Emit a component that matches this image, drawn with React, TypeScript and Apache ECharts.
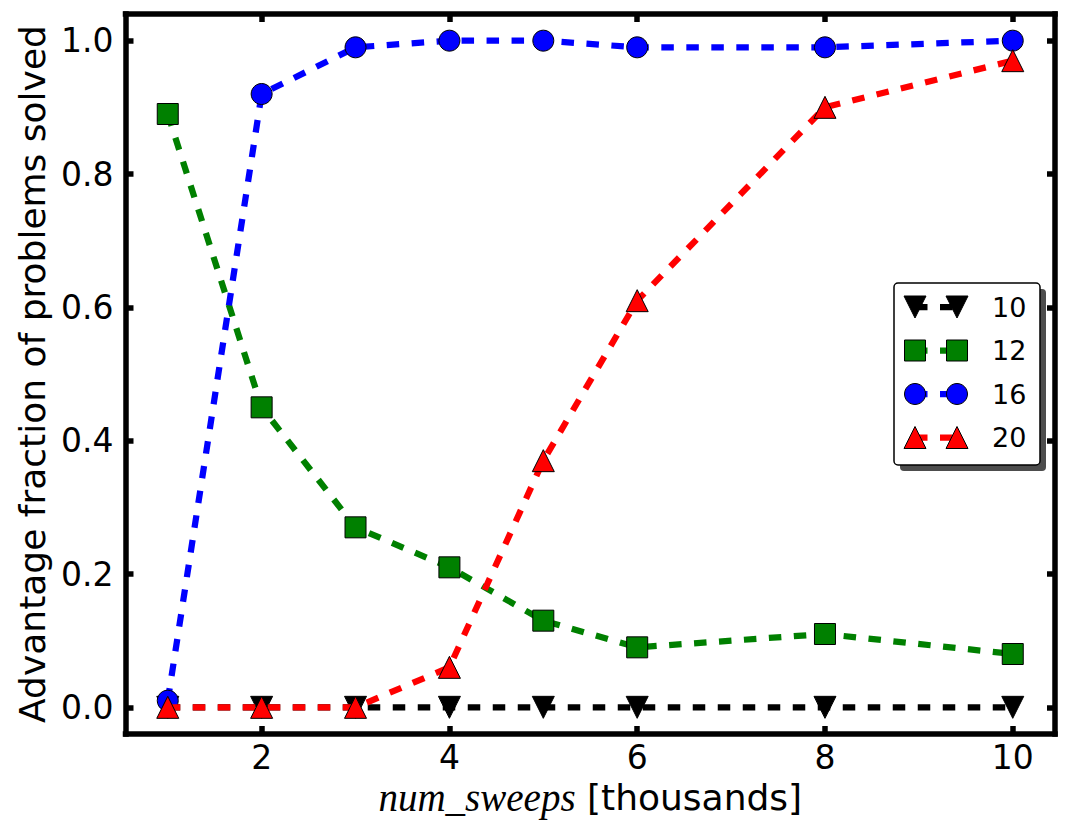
import React, { useEffect, useRef } from "react";
import * as echarts from "echarts";

// Sweeps (thousands) and the fraction of problems with an advantage, per problem size
const sweeps = [1, 2, 3, 4, 5, 6, 8, 10];
const solved10 = [0, 0, 0, 0, 0, 0, 0, 0];
const solved12 = [0.89, 0.45, 0.27, 0.21, 0.13, 0.09, 0.11, 0.08];
const solved16 = [0.01, 0.92, 0.99, 1.0, 1.0, 0.99, 0.99, 1.0];
const solved20 = [0, 0, 0, 0.06, 0.37, 0.61, 0.9, 0.97];
const sizeLabels = ["10", "12", "16", "20"];
const xTicks = [2, 4, 6, 8, 10];
const yTicks = [0, 0.2, 0.4, 0.6, 0.8, 1.0];

const FONT = "DejaVu Sans";
const DASH = [12.5, 12.5];
const LINE_W = 6.25;
const FRAME_W = 5.5;

type MarkerKind = "down" | "square" | "circle" | "up";

const styles: { color: string; marker: MarkerKind }[] = [
  { color: "#000000", marker: "down" },
  { color: "#008000", marker: "square" },
  { color: "#0000ff", marker: "circle" },
  { color: "#ff0000", marker: "up" },
];

const seriesValues = [solved10, solved12, solved16, solved20];

function echartsSymbol(kind: MarkerKind) {
  if (kind === "square") return { symbol: "rect", symbolRotate: 0 };
  if (kind === "circle") return { symbol: "circle", symbolRotate: 0 };
  if (kind === "down") return { symbol: "triangle", symbolRotate: 180 };
  return { symbol: "triangle", symbolRotate: 0 };
}

function legendMarker(kind: MarkerKind, cx: number, cy: number, color: string) {
  const style = { fill: color, stroke: "#000", lineWidth: 1 };
  const r = 11;
  if (kind === "circle") return { type: "circle", shape: { cx, cy, r: 10.5 }, style, z: 3 };
  if (kind === "square")
    return { type: "rect", shape: { x: cx - 10.5, y: cy - 10.5, width: 21, height: 21 }, style, z: 3 };
  if (kind === "down")
    return {
      type: "polygon",
      shape: { points: [[cx - r, cy - r], [cx + r, cy - r], [cx, cy + r]] },
      style,
      z: 3,
    };
  return {
    type: "polygon",
    shape: { points: [[cx, cy - r], [cx + r, cy + r], [cx - r, cy + r]] },
    style,
    z: 3,
  };
}

function buildLegend() {
  const boxX = 894;
  const boxY = 283;
  const boxW = 146;
  const boxH = 182;
  const els: any[] = [
    { type: "rect", shape: { x: boxX + 6, y: boxY + 6, width: boxW, height: boxH, r: 4 }, style: { fill: "#4d4d4d" }, z: 1 },
    {
      type: "rect",
      shape: { x: boxX, y: boxY, width: boxW, height: boxH, r: 4 },
      style: { fill: "#ffffff", stroke: "#000", lineWidth: 1.5 },
      z: 2,
    },
  ];
  sizeLabels.forEach((label, i) => {
    const cy = 307 + i * 43.5;
    const { color, marker } = styles[i];
    els.push({
      type: "line",
      shape: { x1: 915, y1: cy, x2: 957, y2: cy },
      style: { stroke: color, lineWidth: LINE_W, lineDash: DASH },
      z: 2.5,
    });
    els.push(legendMarker(marker, 915, cy, color));
    els.push(legendMarker(marker, 957, cy, color));
    els.push({
      type: "text",
      x: 992,
      y: cy,
      style: { text: label, fontSize: 27, fontFamily: FONT, fill: "#000", verticalAlign: "middle", align: "left" },
      z: 3,
    });
  });
  return els;
}

const axisLine = { show: true, onZero: false, lineStyle: { color: "#000", width: FRAME_W, cap: "square" } };

export default function App() {
  const ref = useRef<HTMLDivElement>(null);

  useEffect(() => {
    if (!ref.current) return;
    const chart = echarts.init(ref.current, undefined, { renderer: "svg" });

    const tickCommon = { show: true, inside: true, length: 8, lineStyle: { color: "#000", width: FRAME_W } };

    chart.setOption({
      animation: false,
      backgroundColor: "#ffffff",
      grid: { left: 125.5, right: 14, top: 14, bottom: 106, containLabel: false },
      xAxis: [
        {
          type: "value",
          position: "bottom",
          min: 0.55,
          max: 10.45,
          axisLine,
          axisTick: { ...tickCommon, customValues: xTicks },
          axisLabel: {
            customValues: xTicks,
            fontSize: 33,
            lineHeight: 33,
            fontFamily: FONT,
            color: "#000",
            margin: 7,
          },
          splitLine: { show: false },
          name: "{it|num_sweeps} [thousands]",
          nameLocation: "middle",
          nameGap: 45,
          nameMoveOverlap: false,
          nameTextStyle: {
            fontSize: 36,
            lineHeight: 36,
            fontFamily: FONT,
            color: "#000",
            rich: {
              it: {
                fontFamily: "Liberation Serif",
                fontStyle: "italic",
                fontSize: 39,
                lineHeight: 36,
                color: "#000",
              },
            },
          },
        },
        {
          type: "value",
          position: "top",
          min: 0.55,
          max: 10.45,
          axisLine,
          axisTick: { ...tickCommon, customValues: xTicks },
          axisLabel: { show: false },
          splitLine: { show: false },
        },
      ],
      yAxis: [
        {
          type: "value",
          position: "left",
          min: -0.04,
          max: 1.04,
          axisLine,
          axisTick: { ...tickCommon, customValues: yTicks },
          axisLabel: {
            customValues: yTicks,
            fontSize: 33,
            fontFamily: FONT,
            color: "#000",
            margin: 12,
            formatter: (v: number) => v.toFixed(1),
          },
          splitLine: { show: false },
          name: "Advantage fraction of problems solved",
          nameLocation: "middle",
          nameRotate: 90,
          nameGap: 74,
          nameTextStyle: { fontSize: 36, fontFamily: FONT, color: "#000" },
        },
        {
          type: "value",
          position: "right",
          min: -0.04,
          max: 1.04,
          axisLine,
          axisTick: { ...tickCommon, customValues: yTicks },
          axisLabel: { show: false },
          splitLine: { show: false },
        },
      ],
      series: seriesValues.map((vals, i) => {
        const { color, marker } = styles[i];
        return {
          name: sizeLabels[i],
          type: "line",
          xAxisIndex: 0,
          yAxisIndex: 0,
          data: sweeps.map((x, j) => [x, vals[j]]),
          color,
          ...echartsSymbol(marker),
          symbolSize: marker === "circle" || marker === "square" ? 21 : 22,
          showAllSymbol: true,
          itemStyle: { color, borderColor: "#000", borderWidth: 1, opacity: 1 },
          lineStyle: { color, width: LINE_W, type: DASH },
          z: 2 + i,
          clip: false,
        };
      }),
      graphic: buildLegend(),
    });

    return () => chart.dispose();
  }, []);

  return (
    <div
      ref={ref}
      style={{ position: "fixed", left: 0, top: 0, width: 1069, height: 840, background: "#fff" }}
    />
  );
}
